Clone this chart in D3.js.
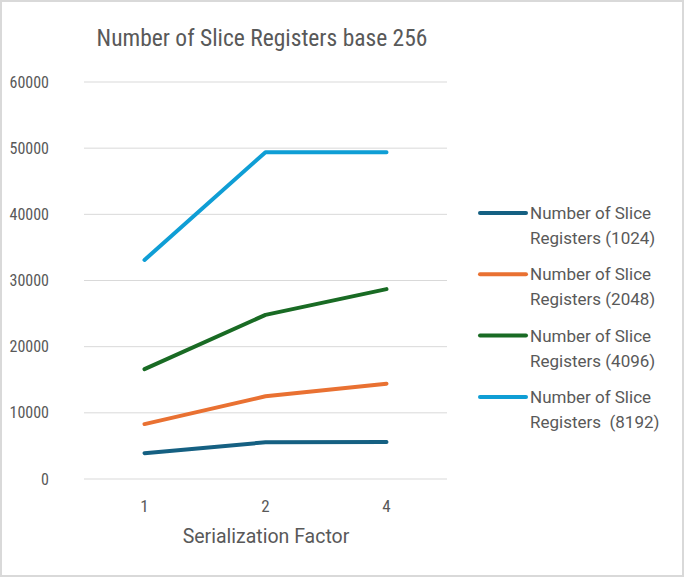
<!DOCTYPE html>
<meta charset="utf-8">
<head>
<style>
body { margin: 0; background: #fff; }
text { fill: #595959; }
.wide { font-family: Roboto, 'Open Sans', sans-serif; }
</style>
</head>
<body>
<div id="chart"></div>
<script src="https://d3js.org/d3.v7.min.js"></script>
<script>

// data
var factors = ["1", "2", "4"];
var seriesNames = ["Number of Slice Registers (1024)", "Number of Slice Registers (2048)",
                   "Number of Slice Registers (4096)", "Number of Slice Registers  (8192)"];
var regs1024 = [3900, 5550, 5600];
var regs2048 = [8300, 12500, 14400];
var regs4096 = [16600, 24800, 28700];
var regs8192 = [33100, 49400, 49400];
var yTicks = [0, 10000, 20000, 30000, 40000, 50000, 60000];
var colors = ["#156082", "#E97132", "#196B24", "#0F9ED5"];

var allSeries = [regs1024, regs2048, regs4096, regs8192];

var W = 685, H = 578;
var font = "'Liberation Sans Narrow', 'Roboto Condensed', Roboto, sans-serif";

var svg = d3.select("#chart").append("svg")
    .attr("width", W)
    .attr("height", H)
    .style("font-family", font);

// outer border
svg.append("rect")
    .attr("x", 1).attr("y", 1)
    .attr("width", W - 3).attr("height", H - 3)
    .attr("fill", "#fff")
    .attr("stroke", "#d9d9d9")
    .attr("stroke-width", 2);

var plot = {left: 84, right: 447, top: 82, bottom: 479};

var x = d3.scalePoint()
    .domain(factors)
    .range([plot.left, plot.right])
    .padding(0.5);

var y = d3.scaleLinear()
    .domain([0, 60000])
    .range([plot.bottom, plot.top]);

// gridlines
svg.append("g")
  .selectAll("line")
  .data(yTicks)
  .enter()
  .append("line")
    .attr("x1", plot.left)
    .attr("x2", plot.right)
    .attr("y1", function(d) { return y(d); })
    .attr("y2", function(d) { return y(d); })
    .attr("stroke", "#d9d9d9")
    .attr("stroke-width", 1);

// y tick labels
svg.append("g")
  .selectAll("text")
  .data(yTicks)
  .enter()
  .append("text")
    .attr("x", 49)
    .attr("y", function(d) { return y(d); })
    .attr("dy", "0.35em")
    .attr("text-anchor", "end")
    .style("font-size", "16px")
    .text(function(d) { return d; });

// x tick labels
svg.append("g")
  .selectAll("text")
  .data(factors)
  .enter()
  .append("text")
    .attr("x", function(d) { return x(d); })
    .attr("y", 512)
    .attr("text-anchor", "middle")
    .style("font-size", "17px")
    .text(function(d) { return d; });

// axis title
svg.append("text")
    .attr("class", "wide")
    .attr("x", 266)
    .attr("y", 543)
    .attr("text-anchor", "middle")
    .style("font-size", "19.5px")
    .text("Serialization Factor");

// chart title
svg.append("text")
    .attr("x", 262)
    .attr("y", 46)
    .attr("text-anchor", "middle")
    .style("font-size", "23.5px")
    .text("Number of Slice Registers base 256");

// lines
var line = d3.line()
    .x(function(d, i) { return x(factors[i]); })
    .y(function(d) { return y(d); });

svg.append("g")
  .selectAll("path")
  .data(allSeries)
  .enter()
  .append("path")
    .attr("d", line)
    .attr("fill", "none")
    .attr("stroke", function(d, i) { return colors[i]; })
    .attr("stroke-width", 4)
    .attr("stroke-linecap", "round")
    .attr("stroke-linejoin", "round");

// legend
var legend = svg.selectAll(".legend")
  .data(seriesNames)
  .enter()
  .append("g")
    .attr("class", "legend")
    .attr("transform", function(d, i) { return "translate(480," + (213 + i * 61.3) + ")"; });

legend.append("line")
    .attr("x1", 0).attr("x2", 46)
    .attr("y1", 0).attr("y2", 0)
    .attr("stroke", function(d, i) { return colors[i]; })
    .attr("stroke-width", 4)
    .attr("stroke-linecap", "round");

legend.append("text")
    .attr("class", "wide")
    .attr("x", 50)
    .attr("y", 6)
    .style("font-size", "17px")
    .text("Number of Slice");

legend.append("text")
    .attr("class", "wide")
    .attr("x", 50)
    .attr("y", 31)
    .style("font-size", "17px")
    .style("white-space", "pre")
    .text(function(d) { return d.replace("Number of Slice ", ""); });

</script>
</body>
